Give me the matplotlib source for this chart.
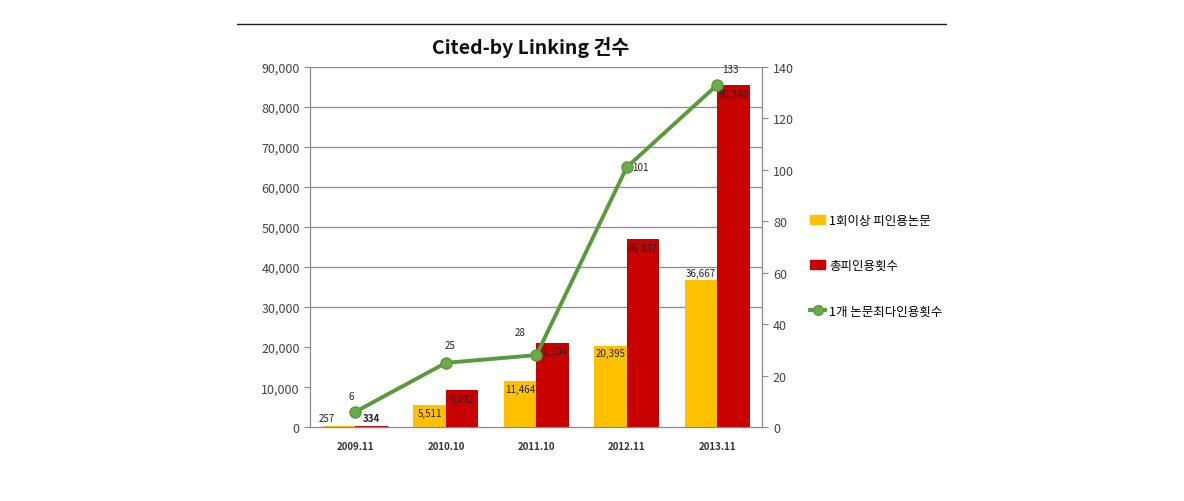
import numpy as np
import matplotlib.pyplot as plt
from matplotlib.patches import Patch
from matplotlib.lines import Line2D

plt.rcParams['font.family'] = ['Noto Sans CJK KR', 'DejaVu Sans']

# data
periods = ['2009.11', '2010.10', '2011.10', '2012.11', '2013.11']
citedPapers = [257, 5511, 11464, 20395, 36667]       # 1회이상 피인용논문
totalCites = [334, 9202, 21104, 46887, 85346]        # 총피인용횟수
maxCites = [6, 25, 28, 101, 133]                     # 1개 논문최다인용횟수
legendLabels = ['1회이상 피인용논문', '총피인용횟수', '1개 논문최다인용횟수']

yellow = '#FFC000'
red = '#C80000'
green = '#5A9A3A'

fig = plt.figure(figsize=(11.84, 5.02), dpi=100)
ax = fig.add_axes([0.262, 0.147, 0.382, 0.718])
ax2 = ax.twinx()

x = np.arange(len(periods))
w = 0.36
ax.bar(x - w / 2, citedPapers, w, color=yellow, zorder=2)
ax.bar(x + w / 2, totalCites, w, color=red, zorder=2)

ax.set_xlim(-0.5, 4.5)
ax.set_ylim(0, 90000)
yt = np.arange(0, 90001, 10000)
ax.set_yticks(yt)
ax.set_yticklabels(['{:,}'.format(v) for v in yt])
# the reference only shows grid lines from 30,000 upward
for v in yt[3:]:
    ax.axhline(v, color='#8a8a8a', lw=0.9, zorder=0)
ax.set_xticks(x)
ax.set_xticklabels(periods, fontsize=7, fontweight='bold', color='#333333')
ax.tick_params(axis='x', length=0, pad=10)
ax.tick_params(axis='y', labelsize=9, colors='#444444', length=4, color='#888888')

ax2.plot(x, maxCites, color=green, lw=2.8, marker='o', ms=8,
         mfc='#6DAA4A', mec='#5A9A3A', zorder=5)
ax2.set_ylim(0, 140)
ax2.set_yticks(np.arange(0, 141, 20))
ax2.tick_params(axis='y', labelsize=9, colors='#444444', length=4, color='#888888')

for a in (ax, ax2):
    for s in a.spines.values():
        s.set_color('#8a8a8a')
    a.spines['top'].set_visible(False)

# bar value labels
lab = dict(fontsize=7, color='#222222')
ax.text(x[0] - w / 2 - 0.05, citedPapers[0] + 800, '{:,}'.format(citedPapers[0]), ha='right', va='bottom', **lab)
ax.text(x[0] + w / 2 + 0.0, totalCites[0] + 800, '{:,}'.format(totalCites[0]), ha='center', va='bottom',
        fontsize=7, fontweight='bold', color='#222222')
for i in range(1, 4):
    ax.text(x[i] - w / 2, citedPapers[i] - 600, '{:,}'.format(citedPapers[i]), ha='center', va='top', **lab)
ax.text(x[4] - w / 2, citedPapers[4] + 600, '{:,}'.format(citedPapers[4]), ha='center', va='bottom', **lab)
for i in range(1, 5):
    ax.text(x[i] + w / 2, totalCites[i] - 800, '{:,}'.format(totalCites[i]), ha='center', va='top', **lab)

# line value labels
offs = [(-0.05, 4, 'center'), (0.05, 5, 'center'), (-0.18, 7, 'center'), (0.06, 0, 'left'), (0.05, 4, 'left')]
for i, v in enumerate(maxCites):
    dx, dy, ha = offs[i]
    ax2.text(x[i] + dx, v + dy, str(v), ha=ha, va='bottom' if dy > 0 else 'center', **lab)

fig.text(0.448, 0.905, 'Cited-by Linking 건수', ha='center', va='center',
         fontsize=14, fontweight='bold', color='#111111')

# separator line above chart
fig.add_artist(Line2D([0.2, 0.799], [0.951, 0.951], color='#222222', lw=1))

handles = [Patch(color=yellow), Patch(color=red),
           Line2D([], [], color=green, lw=2.8, marker='o', ms=7, mfc='#6DAA4A', mec='#5A9A3A')]
fig.legend(handles, legendLabels, loc='upper left', bbox_to_anchor=(0.675, 0.595),
           frameon=False, fontsize=9, labelspacing=2.6, handlelength=1.2, handletextpad=0.3)

fig.savefig('out.png', dpi=100)
